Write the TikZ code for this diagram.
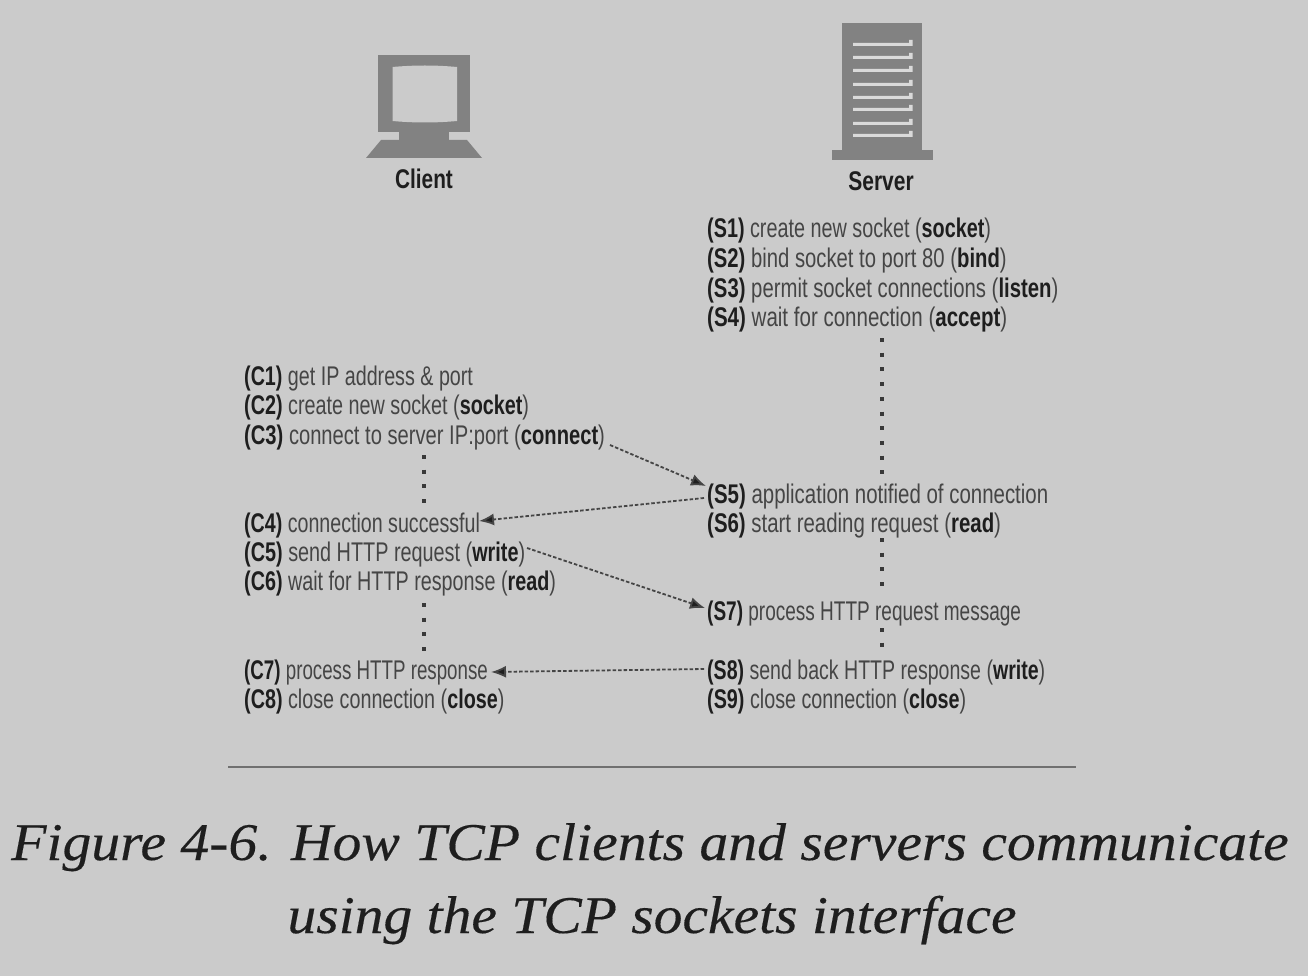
\documentclass[tikz,border=0pt]{standalone}
\usepackage{graphicx}
\usepackage{fontspec}
\setmainfont{Liberation Sans}
\newfontfamily\narrowfont[FakeStretch=0.72]{Liberation Sans}
\newfontfamily\capfont[ItalicFeatures={FakeBold=0.25}]{Liberation Serif}
\usetikzlibrary{arrows.meta}
\definecolor{bgc}{HTML}{CBCBCB}
\definecolor{iconc}{HTML}{828282}
\definecolor{slotc}{HTML}{DADADA}
\definecolor{inkc}{HTML}{1E1E1E}
\definecolor{softc}{HTML}{454545}
\newcommand{\B}[1]{\textbf{\textcolor{inkc}{#1}}}
\newcommand{\W}[2]{\scalebox{#1}[1]{#2}}
\tikzset{
  step line/.style={font=\narrowfont\fontsize{27}{29}\selectfont,text=softc,anchor=base west,inner sep=0pt},
  head label/.style={font=\narrowfont\bfseries\fontsize{27}{29}\selectfont,text=inkc,anchor=base,inner sep=0pt},
  caption line/.style={font=\capfont\itshape\fontsize{53}{60}\selectfont,text=inkc,anchor=base,inner sep=0pt},
  wait line/.style={line width=3.6pt,draw=inkc!85!bgc,dash pattern=on 4pt off 10.7pt},
  msg/.style={line width=1.8pt,draw=softc,dash pattern=on 3.5pt off 2pt,-{Latex[length=15pt,width=12pt,fill=inkc]}}
}
\begin{document}
\begin{tikzpicture}[x=1pt,y=-1pt]
\useasboundingbox (0,0) rectangle (1308,976);
\fill[bgc] (0,0) rectangle (1308,976);
% client icon
\fill[iconc] (377.5,55) rectangle (470,132);
\fill[bgc] (392.5,67) .. controls (415,65) and (435,65) .. (457,67) -- (457,121) .. controls (435,123) and (415,123) .. (392.5,121) -- cycle;
\fill[iconc] (399,132) rectangle (449,142);
\fill[iconc] (381,140) -- (467,140) -- (482,158) -- (366,158) -- cycle;
% server icon
\fill[iconc] (842,23) rectangle (922,152);
\fill[iconc] (832,150) rectangle (933,160);
\foreach \yy in {44,57,70,84,97,109,123,135}{
  \fill[slotc] (853,\yy-1) -- (909,\yy-1) -- (909,\yy-4) -- (912.5,\yy-4) -- (912.5,\yy+2) -- (853,\yy+2) -- cycle;
}
\node[head label] (client) at (424,189) {\W{1.07}{Client}};
\node[head label] (server) at (881,191) {\W{1.08}{Server}};
% server steps
\node[step line] (s1) at (707,238) {\W{1.018}{\B{(S1)} create new socket (\B{socket})}};
\node[step line] (s2) at (707,267) {\W{1.042}{\B{(S2)} bind socket to port 80 (\B{bind})}};
\node[step line] (s3) at (707,297) {\W{1.045}{\B{(S3)} permit socket connections (\B{listen})}};
\node[step line] (s4) at (707,326) {\W{1.056}{\B{(S4)} wait for connection (\B{accept})}};
\node[step line] (s5) at (707,503) {\W{1.052}{\B{(S5)} application notified of connection}};
\node[step line] (s6) at (707,532) {\W{1.05}{\B{(S6)} start reading request (\B{read})}};
\node[step line] (s7) at (707,620) {\W{0.978}{\B{(S7)} process HTTP request message}};
\node[step line] (s8) at (707,679) {\W{1.006}{\B{(S8)} send back HTTP response (\B{write})}};
\node[step line] (s9) at (707,708) {\W{1.016}{\B{(S9)} close connection (\B{close})}};
% client steps
\node[step line] (c1) at (244,385) {\W{1.013}{\B{(C1)} get IP address \& port}};
\node[step line] (c2) at (244,414) {\W{1.018}{\B{(C2)} create new socket (\B{socket})}};
\node[step line] (c3) at (244,444) {\W{1.037}{\B{(C3)} connect to server IP:port (\B{connect})}};
\node[step line] (c4) at (244,532) {\W{1.01}{\B{(C4)} connection successful}};
\node[step line] (c5) at (244,561) {\W{1.02}{\B{(C5)} send HTTP request (\B{write})}};
\node[step line] (c6) at (244,590) {\W{1.016}{\B{(C6)} wait for HTTP response (\B{read})}};
\node[step line] (c7) at (244,679) {\W{0.964}{\B{(C7)} process HTTP response}};
\node[step line] (c8) at (244,708) {\W{1.016}{\B{(C8)} close connection (\B{close})}};
% free ends of the waits
\coordinate (w1a) at (882,338); \coordinate (w1b) at (882,476);
\coordinate (w2a) at (882,538); \coordinate (w2b) at (882,592);
\coordinate (w3a) at (882,628); \coordinate (w3b) at (882,652);
\coordinate (w4a) at (424,455); \coordinate (w4b) at (424,505);
\coordinate (w5a) at (424,603); \coordinate (w5b) at (424,653);
\draw[wait line] (w1a) -- (w1b);
\draw[wait line] (w2a) -- (w2b);
\draw[wait line] (w3a) -- (w3b);
\draw[wait line] (w4a) -- (w4b);
\draw[wait line] (w5a) -- (w5b);
% messages
\coordinate (m1a) at (610,445); \coordinate (m1b) at (706,486);
\coordinate (m2a) at (704,498); \coordinate (m2b) at (479,521);
\coordinate (m3a) at (527,548); \coordinate (m3b) at (705,608);
\coordinate (m4a) at (704,669); \coordinate (m4b) at (491,672);
\draw[msg] (m1a) -- (m1b);
\draw[msg] (m2a) -- (m2b);
\draw[msg] (m3a) -- (m3b);
\draw[msg] (m4a) -- (m4b);
% caption
\coordinate (r1) at (228,767); \coordinate (r2) at (1076,767);
\draw[line width=1.5pt,draw=black!45!bgc] (r1) -- (r2);
\node[caption line] (cap1) at (650,860) {\W{1.088}{Figure 4-6. How TCP clients and servers communicate}};
\node[caption line] (cap2) at (652,933) {\W{1.086}{using the TCP sockets interface}};
\end{tikzpicture}
\end{document}
